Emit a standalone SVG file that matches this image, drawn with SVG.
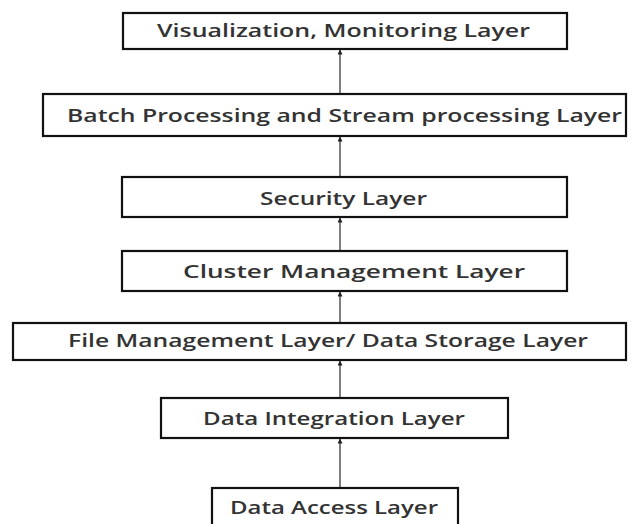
<svg xmlns="http://www.w3.org/2000/svg" width="633" height="524" viewBox="0 0 633 524">
<style>
.box{fill:#fff;stroke:#111;stroke-width:2.2}
.lbl{font-family:"Open Sans","DejaVu Sans",sans-serif;font-size:18px;font-weight:600;fill:#333}
.conn{stroke:#555;stroke-width:1.5;fill:none;marker-end:url(#ah)}
</style>
<defs>
<marker id="ah" viewBox="0 0 10 10" refX="9" refY="5" markerWidth="5" markerHeight="5" orient="auto" markerUnits="userSpaceOnUse">
<path d="M0,0 L10,5 L0,10 z" fill="#222"/>
</marker>
</defs>
<rect width="633" height="524" fill="#fff"/>
<g id="connectors">
<line class="conn" x1="340" y1="488" x2="340" y2="439"/>
<line class="conn" x1="340" y1="398" x2="340" y2="361"/>
<line class="conn" x1="340" y1="323" x2="340" y2="292"/>
<line class="conn" x1="340" y1="251" x2="340" y2="218"/>
<line class="conn" x1="340" y1="177" x2="340" y2="137"/>
<line class="conn" x1="340" y1="94" x2="340" y2="50"/>
</g>
<g id="visualization">
<rect class="box" x="123" y="13" width="444" height="36"/>
<text class="lbl" x="157" y="37" textLength="373" lengthAdjust="spacingAndGlyphs">Visualization, Monitoring Layer</text>
</g>
<g id="batch">
<rect class="box" x="43" y="94" width="583" height="42"/>
<text class="lbl" x="67" y="122" textLength="555" lengthAdjust="spacingAndGlyphs">Batch Processing and Stream processing  Layer</text>
</g>
<g id="security">
<rect class="box" x="122" y="177" width="445" height="40"/>
<text class="lbl" x="260" y="205" textLength="167" lengthAdjust="spacingAndGlyphs">Security Layer</text>
</g>
<g id="cluster">
<rect class="box" x="122" y="251" width="445" height="40"/>
<text class="lbl" x="183" y="278" textLength="342" lengthAdjust="spacingAndGlyphs">Cluster Management Layer</text>
</g>
<g id="file">
<rect class="box" x="13" y="323" width="613" height="37"/>
<text class="lbl" x="68" y="347" textLength="520" lengthAdjust="spacingAndGlyphs">File Management Layer/ Data Storage Layer</text>
</g>
<g id="integration">
<rect class="box" x="161" y="398" width="347" height="40"/>
<text class="lbl" x="203" y="425" textLength="262" lengthAdjust="spacingAndGlyphs">Data Integration Layer</text>
</g>
<g id="access">
<rect class="box" x="212" y="488" width="246" height="40"/>
<text class="lbl" x="230" y="514" textLength="208" lengthAdjust="spacingAndGlyphs">Data Access Layer</text>
</g>
</svg>
